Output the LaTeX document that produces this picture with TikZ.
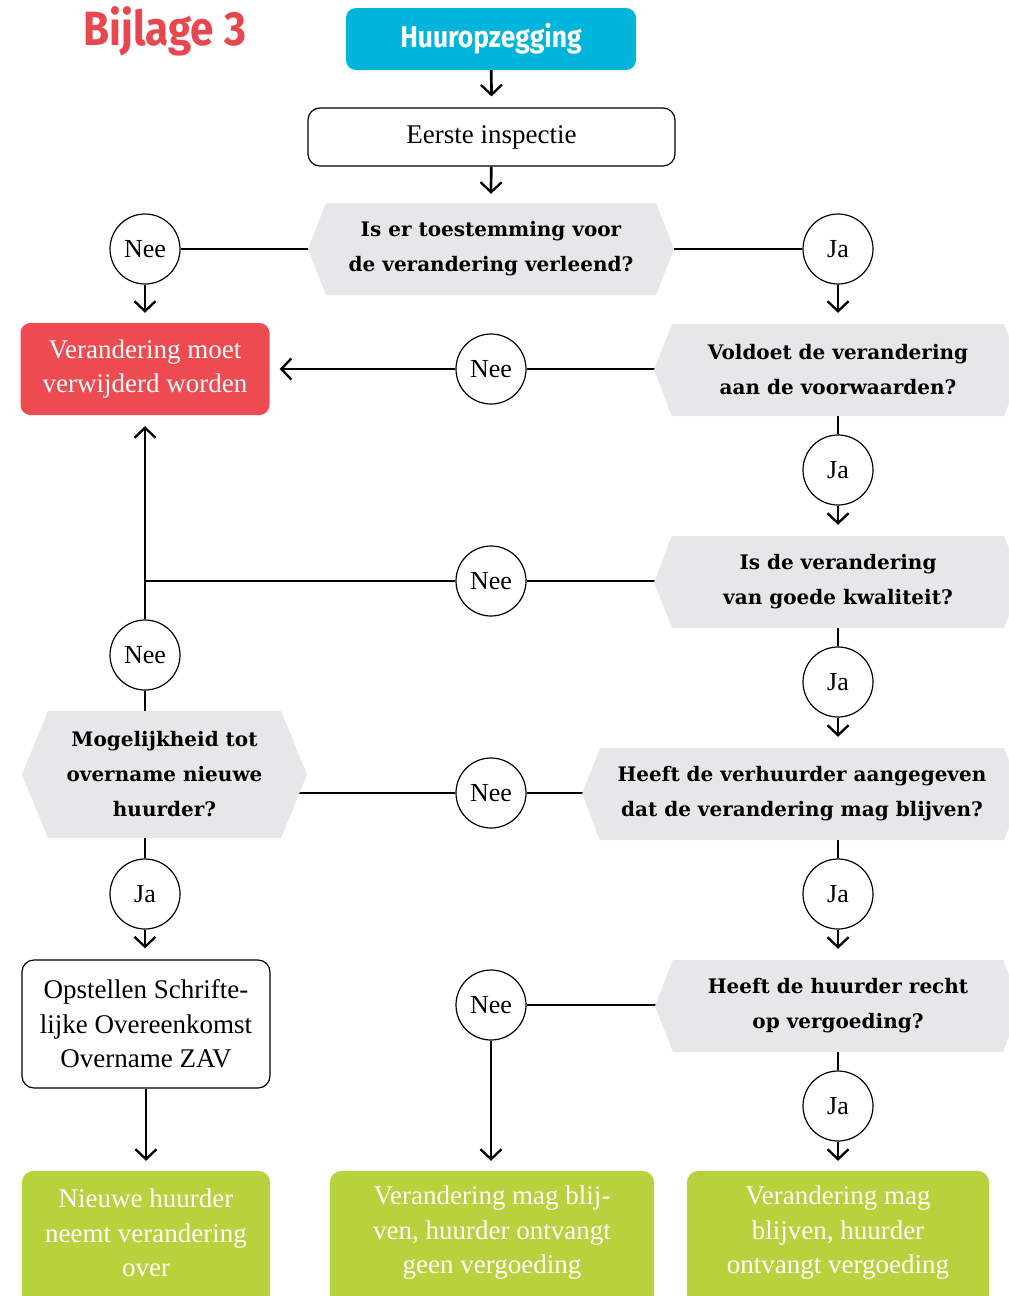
\documentclass[tikz,border=0pt]{standalone}
\usepackage{fontspec}
\setmainfont{Liberation Serif}
\newfontfamily\qfont{DejaVu Serif}
\newfontfamily\sansf[FakeStretch=0.88]{Fira Sans}
\usetikzlibrary{arrows.meta,backgrounds,calc}
\definecolor{titlered}{HTML}{E8474F}
\definecolor{boxred}{HTML}{EE4A51}
\definecolor{cyanb}{HTML}{00B4DC}
\definecolor{hexgray}{HTML}{E6E7E8}
\definecolor{limeg}{HTML}{B6D33E}
\tikzset{
  conn/.style={line width=2.7pt, black},
  arr/.style={conn, -{Straight Barb[length=10pt,width=21pt,line width=2.3pt]}},
  yn/.style={circle, draw, fill=white, line width=1.2pt, minimum size=70pt, inner sep=0pt, font=\fontsize{26}{30}\selectfont},
  qtext/.style={align=center, font=\qfont\bfseries\fontsize{20}{35}\selectfont, inner sep=0pt},
  plainbox/.style={draw, line width=1.2pt, rounded corners=12pt, align=center, font=\fontsize{27}{34.5}\selectfont},
  resbox/.style={align=center, text=white, font=\fontsize{27}{34.5}\selectfont, inner sep=0pt},
}
\newcommand\hexq[7]{%
  \fill[hexgray] ({#2-#4},#3) -- ({#2-#4+#6},{#3-#5}) -- ({#2+#4-#6},{#3-#5}) -- ({#2+#4},#3) -- ({#2+#4-#6},{#3+#5}) -- ({#2-#4+#6},{#3+#5}) -- cycle;
  \node[qtext, minimum height={2*#5}] (#1) at (#2,#3) {#7};
}
\begin{document}
\begin{tikzpicture}[x=1pt,y=-1pt]
\useasboundingbox (0,0) rectangle (1009,1296);
\clip (0,0) rectangle (1009,1296);
\node[font=\sansf\bfseries\fontsize{48}{48}\selectfont, text=titlered, inner sep=0pt] (title) at (165,31) {Bijlage 3};
\node[fill=cyanb, rounded corners=10pt, minimum width=290pt, minimum height=62pt, text=white, font=\sansf\bfseries\fontsize{30}{32}\selectfont] (huur) at (491,39) {Huuropzegging};
\node[plainbox, minimum width=367pt, minimum height=58pt] (eerste) at (491.5,137) {Eerste inspectie};

\hexq{q1}{491}{249}{183}{46}{18}{Is er toestemming voor\\de verandering verleend?}
\hexq{q2}{838}{370}{184}{46}{18}{Voldoet de verandering\\aan de voorwaarden?}
\hexq{q3}{838}{582}{184}{46}{18}{Is de verandering\\van goede kwaliteit?}
\hexq{q4}{802}{794}{220}{46}{18}{Heeft de verhuurder aangegeven\\dat de verandering mag blijven?}
\hexq{q5}{838}{1006}{183}{46}{18}{Heeft de huurder recht\\op vergoeding?}
\hexq{q6}{164.5}{774.5}{142.5}{63.5}{26}{Mogelijkheid tot\\overname nieuwe\\huurder?}

\node[yn] (n1) at (145,249) {Nee};
\node[yn] (j1) at (838,249) {Ja};
\node[yn] (n2) at (491,369) {Nee};
\node[yn] (j2) at (838,470) {Ja};
\node[yn] (n3) at (491,581) {Nee};
\node[yn] (j3) at (838,682) {Ja};
\node[yn] (n4) at (145,655) {Nee};
\node[yn] (n5) at (491,793) {Nee};
\node[yn] (j4) at (838,894) {Ja};
\node[yn] (j5) at (145,894) {Ja};
\node[yn] (n6) at (491,1005) {Nee};
\node[yn] (j6) at (838,1106) {Ja};

\node[resbox, fill=boxred, rounded corners=10pt, minimum width=249pt, minimum height=92pt] (red) at (145,369) {Verandering moet\\verwijderd worden};
\node[plainbox, minimum width=248pt, minimum height=128pt] (opst) at (146,1024) {Opstellen Schrifte-\\lijke Overeenkomst\\Overname ZAV};
\node[resbox, minimum width=248pt, minimum height=124pt] (g1) at (146,1233) {Nieuwe huurder\\neemt verandering\\over};
\node[resbox, minimum width=324pt, minimum height=124pt] (g2) at (492,1233) {Verandering mag blij-\\ven, huurder ontvangt\\geen vergoeding};
\node[resbox, minimum width=302pt, minimum height=124pt] (g3) at (838,1233) {Verandering mag\\blijven, huurder\\ontvangt vergoeding};

\begin{scope}[on background layer]
\clip (0,0) rectangle (1009,1296);
\foreach \g in {g1,g2,g3} \fill[limeg, rounded corners=12pt] (\g.north west) rectangle ([yshift=-30pt]\g.south east);
\draw[arr] (huur) -- ($(eerste.north)+(0,-11)$);
\draw[arr] (eerste) -- ($(q1.north)+(0,-9)$);
\draw[conn] (n1) -- (n1 -| q1);
\draw[conn] (j1) -- (j1 -| q1);
\draw[arr] (n1) -- ($(red.north)+(0,-10)$);
\draw[arr] (j1) -- ($(q2.north)+(0,-11)$);
\draw[conn] (n2) -- (n2 -| q2);
\draw[arr] (n2) -- ($(red.east)+(10,0)$);
\draw[conn] (q2) -- (j2);
\draw[arr] (j2) -- ($(q3.north)+(0,-11)$);
\draw[conn] (n3) -- (n3 -| q3);
\draw[conn] (n3) -- (n3 -| n4);
\draw[arr] (n4) -- ($(red.south)+(0,11)$);
\draw[conn] (n4) -- (n4 |- q6);
\draw[conn] (q3) -- (j3);
\draw[arr] (j3) -- ($(j3 |- q4.north)+(0,-11)$);
\draw[conn] (n5) -- (n5 -| q4);
\draw[conn] (n5) -- (n5 -| q6);
\draw[conn] (j4) -- (j4 |- q4);
\draw[arr] (j4) -- ($(j4 |- q5.north)+(0,-11)$);
\draw[conn] (j5) -- (j5 |- q6);
\draw[arr] (j5) -- ($(j5 |- opst.north)+(0,-11)$);
\draw[arr] (opst) -- ($(opst |- g1.north)+(0,-10)$);
\draw[conn] (n6) -- (n6 -| q5);
\draw[arr] (n6) -- ($(n6 |- g2.north)+(0,-10)$);
\draw[conn] (q5) -- (j6);
\draw[arr] (j6) -- ($(j6 |- g3.north)+(0,-10)$);
\end{scope}
\end{tikzpicture}
\end{document}
